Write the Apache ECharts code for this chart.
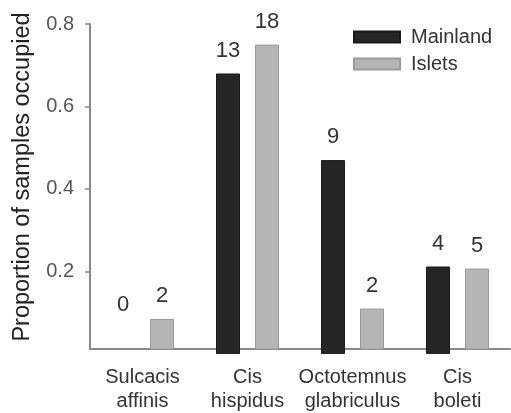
<!DOCTYPE html>
<html>
<head>
<meta charset="utf-8">
<script src="https://cdn.jsdelivr.net/npm/echarts@6/dist/echarts.min.js"></script>
<style>html,body{margin:0;padding:0;background:#fff;}#c{width:511px;height:413px;}</style>
</head>
<body>
<div id="c"></div>
<script>
const categories = ['Sulcacis\naffinis', 'Cis\nhispidus', 'Octotemnus\nglabriculus', 'Cis\nboleti'];
const mainland = [0, 0.68, 0.47, 0.212];
const islets = [0.085, 0.75, 0.11, 0.207];
const mainlandCounts = ['0', '13', '9', '4'];
const isletsCounts = ['2', '18', '2', '5'];
const yTicks = [0.2, 0.4, 0.6, 0.8];

const FONT = '"Liberation Sans", Arial, sans-serif';
const chart = echarts.init(document.getElementById('c'));

function items(values, counts) {
  return values.map((v, i) => {
    const it = { value: v, label: { formatter: counts[i] } };
    if (v === 0) {
      it.label.offset = [0, -26];
      it.itemStyle = { color: 'rgba(0,0,0,0)', borderWidth: 0 };
    }
    return it;
  });
}

const labelStyle = { show: true, position: 'top', distance: 12, color: '#333', fontSize: 22, fontFamily: FONT };

chart.setOption({
  animation: false,
  backgroundColor: '#fff',
  grid: { left: 90, top: 24, right: 1, bottom: 63, containLabel: false },
  legend: {
    orient: 'vertical', left: 348, top: 22, itemWidth: 46, itemHeight: 11, itemGap: 7,
    textStyle: { fontSize: 20, fontFamily: FONT, color: '#333', lineHeight: 20, padding: [0, 0, 0, 6] },
    icon: 'rect'
  },
  xAxis: {
    type: 'category', data: categories,
    axisLine: { lineStyle: { color: '#888', width: 2 } },
    axisTick: { show: false },
    axisLabel: { color: '#333', fontSize: 20, fontFamily: FONT, lineHeight: 24, margin: 16, interval: 0 }
  },
  yAxis: {
    type: 'value', min: 0.012, max: 0.8,
    name: 'Proportion of samples occupied', nameLocation: 'middle', nameGap: 55,
    nameTextStyle: { fontSize: 23.5, fontFamily: FONT, color: '#222', padding: [0, 0, 0, 19] },
    axisLine: { show: true, lineStyle: { color: '#888', width: 2 } },
    axisTick: { show: true, length: 5, customValues: yTicks, lineStyle: { color: '#888', width: 1.5 } },
    axisLabel: { customValues: yTicks, color: '#555', fontSize: 20, fontFamily: FONT, margin: 16,
      formatter: v => v.toFixed(1) },
    splitLine: { show: false }
  },
  series: [
    { name: 'Mainland', type: 'bar', barWidth: 24, barGap: '62.5%', clip: false,
      itemStyle: { color: '#262626', borderColor: '#1a1a1a', borderWidth: 1 },
      label: labelStyle, data: items(mainland, mainlandCounts) },
    { name: 'Islets', type: 'bar', barWidth: 24,
      itemStyle: { color: '#b5b5b5', borderColor: '#999', borderWidth: 1 },
      label: labelStyle, data: items(islets, isletsCounts) }
  ]
});
</script>
</body>
</html>
